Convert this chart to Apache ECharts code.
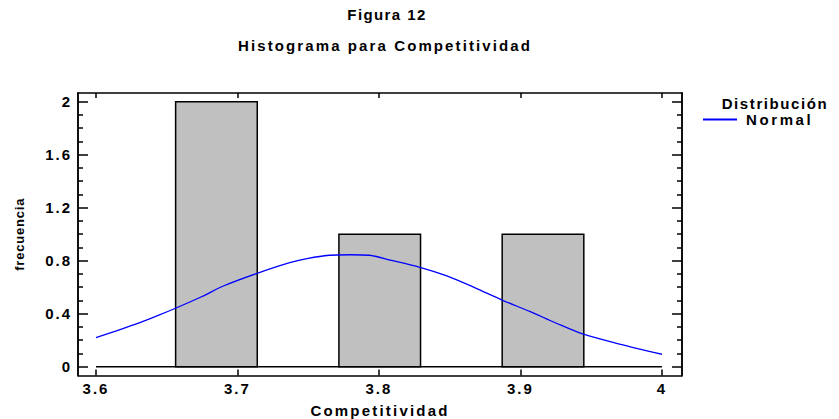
<!DOCTYPE html>
<html>
<head>
<meta charset="utf-8">
<script src="https://cdn.jsdelivr.net/npm/echarts@6/dist/echarts.min.js"></script>
<style>
html,body{margin:0;padding:0;background:#fff;}
#chart{width:839px;height:419px;}
#chart text{letter-spacing:2px;}
</style>
</head>
<body>
<div id="chart"></div>
<script>
// ---- data ----
const binLower = [3.6563, 3.7140, 3.7717, 3.8294, 3.8871];
const binUpper = [3.7140, 3.7717, 3.8294, 3.8871, 3.9448];
const counts   = [2, 0, 1, 0, 1];

const curveX = [3.600, 3.615, 3.631, 3.644, 3.657, 3.675, 3.690, 3.714, 3.737, 3.750, 3.765, 3.780, 3.793, 3.808, 3.829, 3.848, 3.868, 3.887, 3.907, 3.925, 3.944, 3.970, 4.000];
const curveY = [0.219, 0.272, 0.332, 0.387, 0.445, 0.530, 0.609, 0.705, 0.785, 0.818, 0.841, 0.845, 0.841, 0.805, 0.750, 0.685, 0.595, 0.503, 0.415, 0.330, 0.247, 0.171, 0.094];

const xTicks = [3.6, 3.7, 3.8, 3.9, 4.0];
const yTicks = [0, 0.4, 0.8, 1.2, 1.6, 2.0];
const yMinorTicks = [0.1, 0.2, 0.3, 0.5, 0.6, 0.7, 0.9, 1.0, 1.1, 1.3, 1.4, 1.5, 1.7, 1.8, 1.9];

// ---- chart ----
const FONT = 'Liberation Sans';
const chart = echarts.init(document.getElementById('chart'), null, {renderer: 'svg'});

const xMin = 3.5873, xMax = 4.0142;
const yMin = -0.0664, yMax = 2.0657;
const lineStyle = {color: '#000', width: 1.5};
const txt = (size) => ({fontFamily: FONT, fontWeight: 'bold', fontSize: size, color: '#000'});

function yAxisDef(pos, ticks, len, labels) {
  return {
    type: 'value', position: pos, min: yMin, max: yMax,
    name: labels ? 'frecuencia' : '',
    nameLocation: 'middle', nameGap: 52,
    nameTextStyle: txt(13),
    axisLine: {show: true, onZero: false, lineStyle: lineStyle},
    axisTick: {show: true, inside: true, length: len, customValues: ticks, lineStyle: lineStyle},
    axisLabel: Object.assign({show: labels, customValues: ticks, margin: 6}, txt(15)),
    splitLine: {show: false}
  };
}

const option = {
  animation: false,
  backgroundColor: '#fff',
  title: [
    {text: 'Figura 12', left: 382, top: 2, textAlign: 'center', textStyle: txt(15)},
    {text: 'Histograma para Competitividad', left: 380, top: 33, textAlign: 'center', textStyle: txt(15)},
    {text: 'Distribución', left: 775, top: 96, padding: 0, textAlign: 'center', textStyle: txt(15)}
  ],
  legend: {
    data: ['Normal'], left: 703, top: 112, padding: 0, itemWidth: 34, itemHeight: 2, itemGap: 4,
    icon: 'rect',
    textStyle: Object.assign({padding: [0, 0, 0, 4]}, txt(15))
  },
  grid: {left: 78, right: 157, top: 93, bottom: 43.5, outerBoundsMode: 'none', containLabel: false},
  xAxis: [
    {type: 'value', position: 'bottom', min: xMin, max: xMax,
      name: 'Competitividad', nameLocation: 'middle', nameGap: 27,
      nameTextStyle: txt(15),
      axisLine: {show: true, onZero: false, lineStyle: lineStyle},
      axisTick: {show: true, inside: true, length: 6, customValues: xTicks, lineStyle: lineStyle},
      axisLabel: Object.assign({show: true, customValues: xTicks, margin: 5,
        formatter: v => String(+v.toFixed(1))}, txt(15)),
      splitLine: {show: false}},
    {type: 'value', position: 'top', min: xMin, max: xMax,
      axisLine: {show: true, onZero: false, lineStyle: lineStyle},
      axisTick: {show: true, inside: true, length: 5, customValues: xTicks, lineStyle: lineStyle},
      axisLabel: {show: false},
      splitLine: {show: false}}
  ],
  yAxis: [
    yAxisDef('left', yTicks, 10, true),
    yAxisDef('left', yMinorTicks, 5, false),
    yAxisDef('right', yTicks, 10, false),
    yAxisDef('right', yMinorTicks, 5, false)
  ],
  series: [
    {
      type: 'custom', name: 'hist', z: 2,
      data: binLower.map((lo, i) => [lo, binUpper[i], counts[i]]),
      encode: {x: [0, 1], y: 2},
      renderItem: function (params, api) {
        const h = api.value(2);
        if (!h) return null;
        const p0 = api.coord([api.value(0), 0]);
        const p1 = api.coord([api.value(1), h]);
        return {
          type: 'rect',
          shape: {x: p0[0], y: p1[1], width: p1[0] - p0[0], height: p0[1] - p1[1]},
          style: {fill: '#c0c0c0', stroke: '#000', lineWidth: 1.5}
        };
      }
    },
    {
      type: 'line', name: 'baseline', z: 3, symbol: 'none', silent: true,
      data: [[xTicks[0], 0], [xTicks[xTicks.length - 1], 0]],
      lineStyle: {color: '#000', width: 1.5}
    },
    {
      type: 'line', name: 'Normal', z: 4, symbol: 'none', smooth: 0.3,
      data: curveX.map((x, i) => [x, curveY[i]]),
      lineStyle: {color: '#0000ff', width: 1.3},
      itemStyle: {color: '#0000ff'}
    }
  ]
};
chart.setOption(option);

// per-text letter spacing tweaks
const spacing = {'frecuencia': '0.8px', 'Figura 12': '1.4px', 'Histograma para Competitividad': '2.1px',
  'Normal': '2.6px', 'Distribución': '1.6px', 'Competitividad': '2.2px'};
document.querySelectorAll('#chart text').forEach(function (t) {
  const s = spacing[t.textContent];
  if (s) t.style.letterSpacing = s;
});
</script>
</body>
</html>
